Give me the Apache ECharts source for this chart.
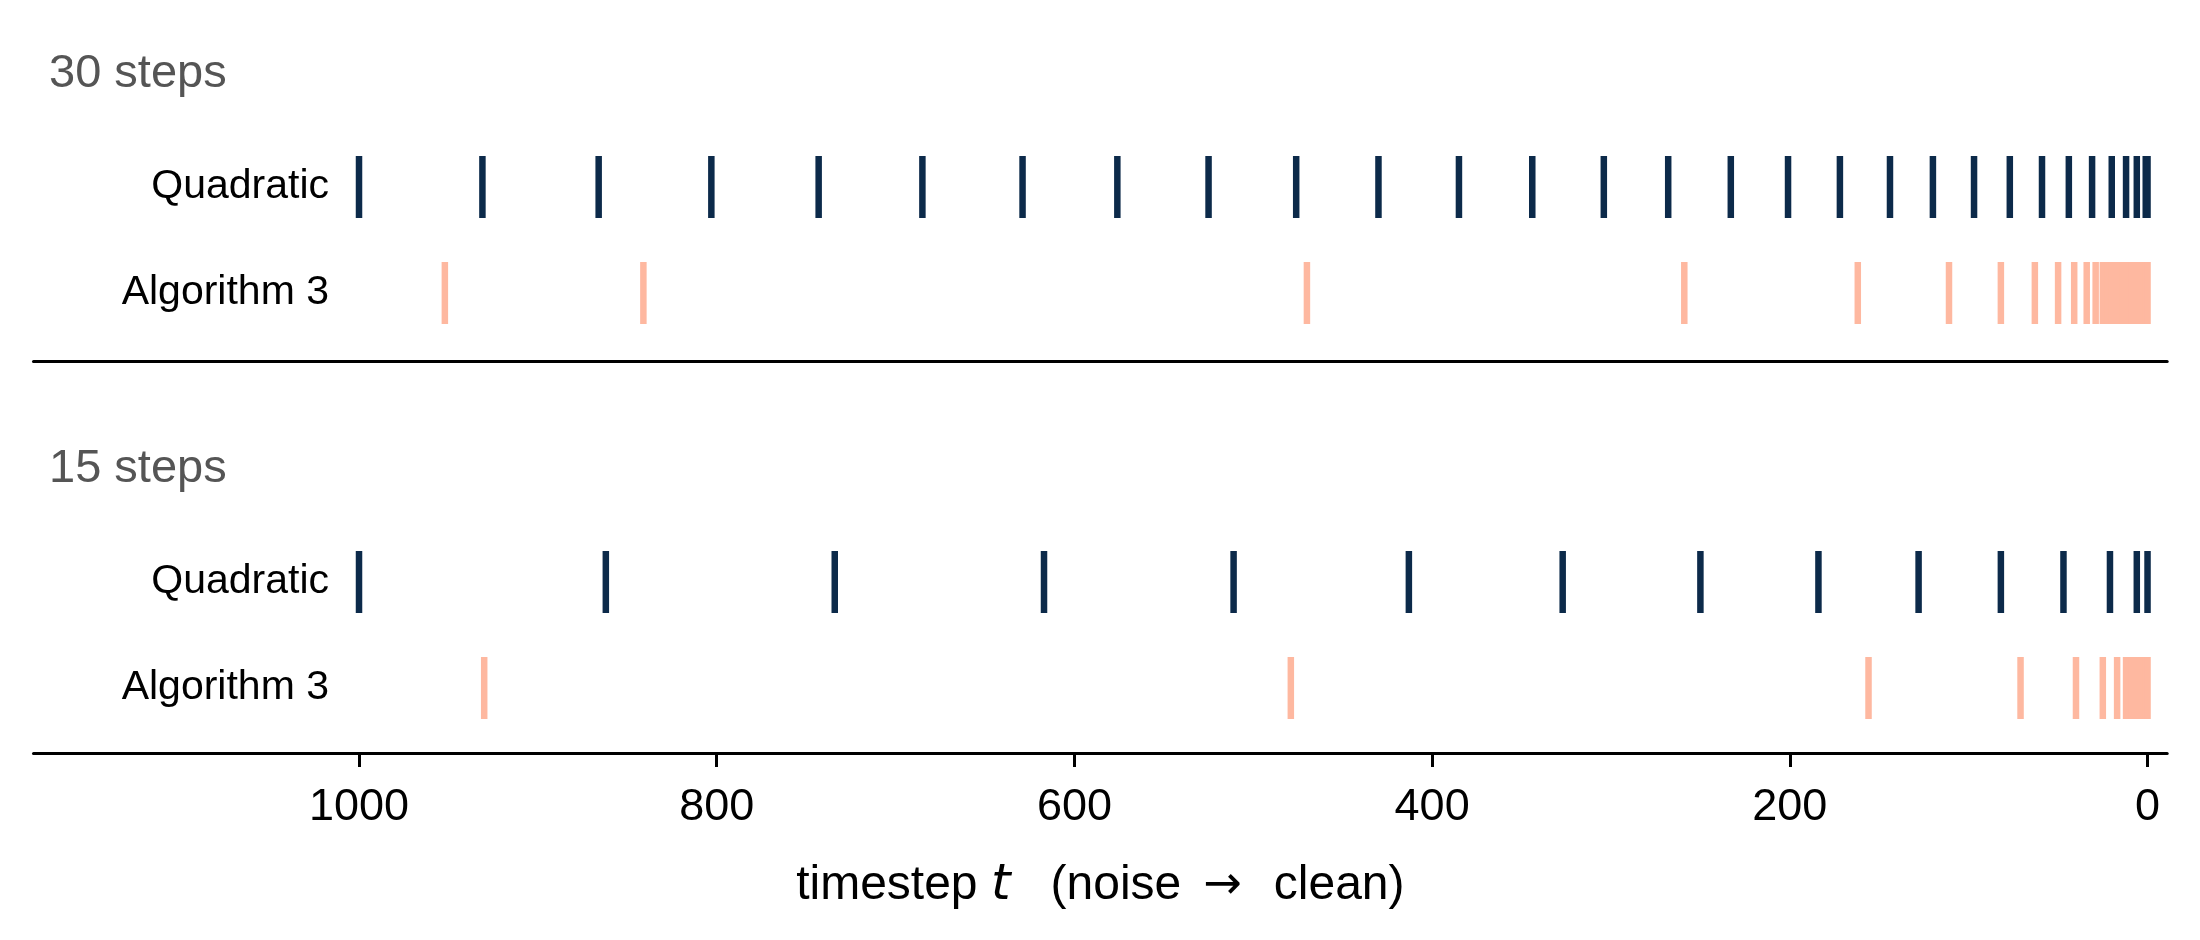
<!DOCTYPE html>
<html>
<head>
<meta charset="utf-8">
<script src="https://cdn.jsdelivr.net/npm/echarts@6/dist/echarts.min.js"></script>
<style>
  html, body { margin: 0; padding: 0; background: #ffffff; }
  #chart { width: 2200px; height: 940px; }
</style>
</head>
<body>
<div id="chart"></div>
<script>
// ---- data (timesteps) ----
const rowNames = ['Algorithm 3', 'Quadratic'];
const panelTitles = ['30 steps', '15 steps'];
const quad30 = [1000, 931, 866, 803, 743, 685, 629, 576, 525, 476, 430, 385, 344, 304, 268, 233, 201, 172, 144, 120, 97, 77, 59, 44, 31, 20, 12, 6, 1, 0];
const alg30 = [952, 841, 470, 259, 162, 111, 82, 63, 50, 41, 34, 29, 25, 22, 20, 18, 16, 14, 12, 10, 9, 8, 7, 6, 5, 4, 3, 2, 1, 0];
const quad15 = [1000, 862, 734, 617, 511, 413, 327, 250, 184, 128, 82, 47, 21, 6, 0];
const alg15 = [930, 479, 156, 71, 40, 25, 17, 12, 9, 7, 5, 3, 2, 1, 0];
const xTicks = [0, 200, 400, 600, 800, 1000];

const colQuad = '#0c2a4a';
const colAlg = '#feb8a0';
const FONT = "'Liberation Sans', Arial, Helvetica, 'DejaVu Sans', sans-serif";

const chart = echarts.init(document.getElementById('chart'), null, { renderer: 'canvas' });

const gridLeft = 33.5, gridRight = 32.8;
const grids = [
  { left: gridLeft, right: gridRight, top: 134, height: 212 },
  { left: gridLeft, right: gridRight, top: 529, height: 212 }
];

function xAxisFor(i, showLabels) {
  return {
    type: 'value', gridIndex: i, inverse: true, min: -11, max: 1182,
    offset: i === 0 ? 15 : 12,
    axisLine: { show: true, onZero: false, lineStyle: { color: '#000', width: 3 } },
    axisTick: { show: showLabels, customValues: xTicks, length: 14, lineStyle: { color: '#000', width: 3 } },
    axisLabel: showLabels ? {
      show: true, customValues: xTicks, fontSize: 45, color: '#000', fontFamily: FONT, margin: 32,
      formatter: v => String(v)
    } : { show: false },
    splitLine: { show: false },
    name: showLabels ? '{n|timestep }{i|t}{n|   (noise }{a|→}{n|  clean)}' : '',
    nameLocation: 'middle',
    nameGap: 108,
    nameTextStyle: {
      rich: {
        n: { fontSize: 48, color: '#000', fontFamily: FONT },
        i: { fontSize: 50, color: '#000', fontFamily: "'DejaVu Sans', sans-serif", fontStyle: 'italic' },
        a: { fontSize: 46, color: '#000', fontFamily: "'DejaVu Sans', sans-serif", padding: [0, 5, 0, 9] }
      }
    }
  };
}

function yAxisFor(i) {
  return {
    type: 'category', gridIndex: i, data: rowNames, boundaryGap: true,
    offset: -(329 - gridLeft),
    axisLine: { show: false }, axisTick: { show: false }, splitLine: { show: false },
    axisLabel: { fontSize: 41, color: '#000', fontFamily: FONT, margin: 0 }
  };
}

function marks(values, row, color, gi) {
  return {
    type: 'scatter', xAxisIndex: gi, yAxisIndex: gi,
    symbol: 'rect', symbolSize: [6.5, 62],
    itemStyle: { color: color, opacity: 1 },
    emphasis: { disabled: true },
    silent: true,
    data: values.map(v => [v, row])
  };
}

const option = {
  backgroundColor: '#ffffff',
  animation: false,
  title: [
    { text: panelTitles[0], left: 49, top: 51, padding: 0,
      textStyle: { fontSize: 47, lineHeight: 47, fontWeight: 'normal', color: '#555555', fontFamily: FONT } },
    { text: panelTitles[1], left: 49, top: 446, padding: 0,
      textStyle: { fontSize: 47, lineHeight: 47, fontWeight: 'normal', color: '#555555', fontFamily: FONT } }
  ],
  grid: grids,
  xAxis: [xAxisFor(0, false), xAxisFor(1, true)],
  yAxis: [yAxisFor(0), yAxisFor(1)],
  series: [
    marks(quad30, rowNames[1], colQuad, 0),
    marks(alg30, rowNames[0], colAlg, 0),
    marks(quad15, rowNames[1], colQuad, 1),
    marks(alg15, rowNames[0], colAlg, 1)
  ]
};
chart.setOption(option);
</script>
</body>
</html>
